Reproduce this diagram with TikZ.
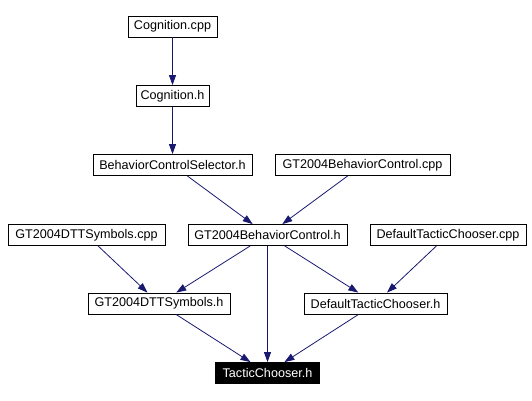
\documentclass[tikz,border=0pt]{standalone}
\usepackage{fontspec}
\setmainfont{Liberation Sans}
\usetikzlibrary{arrows.meta}
\definecolor{edgeblue}{HTML}{191970}
\begin{document}
\begin{tikzpicture}[x=1pt,y=-1pt,
 box/.style={draw=black, line width=0.8pt, minimum height=21pt, inner sep=0pt, font=\fontsize{12.6}{14}\selectfont, text=black},
 hl/.style={box, fill=black, text=white},
 dep/.style={draw=edgeblue, line width=0.8pt, -{Triangle[length=10pt,width=7pt]}}]
\useasboundingbox (0,0) rectangle (532,401);
\node[box, minimum width=89pt] (cogcpp) at (172.5,26.5) {Cognition.cpp};
\node[box, minimum width=73pt] (cogh) at (172.5,96) {Cognition.h};
\node[box, minimum width=159pt] (bcs) at (172.5,165) {BehaviorControlSelector.h};
\node[box, minimum width=175pt] (gtbcpp) at (362.5,165) {GT2004BehaviorControl.cpp};
\node[box, minimum width=157pt] (dttcpp) at (86.5,235) {GT2004DTTSymbols.cpp};
\node[box, minimum width=159pt] (gtbch) at (267.5,235) {GT2004BehaviorControl.h};
\node[box, minimum width=156pt] (dtccpp) at (448,235) {DefaultTacticChooser.cpp};
\node[box, minimum width=142pt] (dtth) at (159,303.5) {GT2004DTTSymbols.h};
\node[box, minimum width=143pt] (dtch) at (375.5,303.5) {DefaultTacticChooser.h};
\node[hl, minimum width=104pt] (tch) at (267.5,373) {TacticChooser.h};
\draw[dep] (cogcpp) -- (cogh);
\draw[dep] (cogh) -- (bcs);
\draw[dep] (bcs) -- (gtbch);
\draw[dep] (gtbcpp) -- (gtbch);
\draw[dep] (dttcpp) -- (dtth);
\draw[dep] (gtbch) -- (dtth);
\draw[dep] (gtbch) -- (tch);
\draw[dep] (gtbch) -- (dtch);
\draw[dep] (dtccpp) -- (dtch);
\draw[dep] (dtth) -- (tch);
\draw[dep] (dtch) -- (tch);
\end{tikzpicture}
\end{document}
